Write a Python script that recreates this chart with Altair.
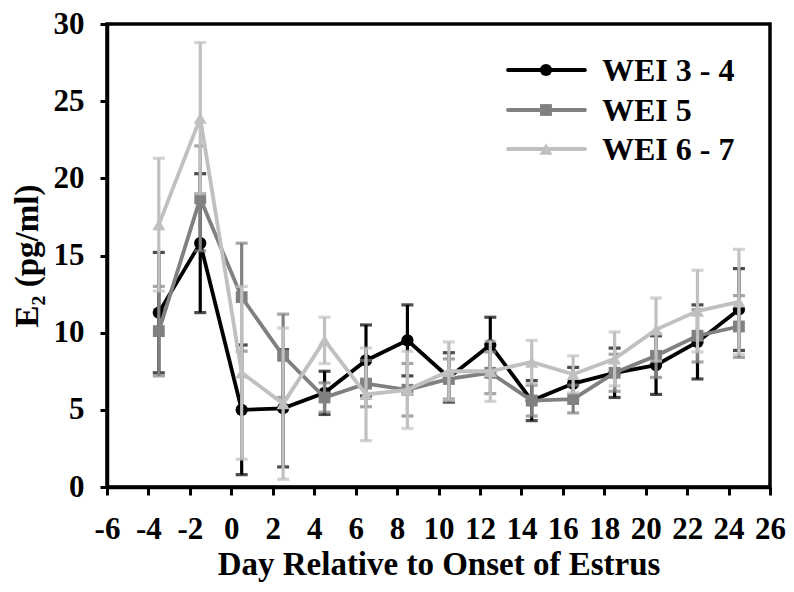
import altair as alt
import pandas as pd

# ---- data ----
days = [-3.5, -1.5, 0.5, 2.5, 4.5, 6.5, 8.5, 10.5, 12.5, 14.5, 16.5, 18.5, 20.5, 22.5, 24.5]
series_names = ["WEI 3 - 4", "WEI 5", "WEI 6 - 7"]

wei34 = [11.3, 15.8, 5.0, 5.1, 6.1, 8.2, 9.5, 7.1, 9.2, 5.6, 6.7, 7.4, 7.9, 9.4, 11.5]
wei34_err = [3.9, 4.5, 4.2, 3.8, 1.4, 2.3, 2.3, 1.6, 1.8, 1.3, 1.05, 1.6, 1.9, 2.4, 2.65]

wei5 = [10.1, 18.7, 12.3, 8.5, 5.8, 6.7, 6.3, 7.0, 7.4, 5.6, 5.7, 7.4, 8.5, 9.8, 10.4]
wei5_err = [2.9, 3.4, 3.5, 2.7, 0.95, 1.5, 1.7, 1.3, 1.35, 1.0, 0.9, 1.2, 1.4, 1.7, 2.0]

wei67 = [17.0, 23.9, 7.4, 5.4, 9.5, 6.0, 6.3, 7.5, 7.5, 8.1, 7.3, 8.3, 10.2, 11.4, 12.0]
wei67_err = [4.3, 4.9, 5.6, 4.9, 1.5, 3.0, 2.5, 1.9, 1.95, 1.4, 1.2, 1.75, 2.05, 2.65, 3.4]

x_ticks = list(range(-6, 27, 2))
y_ticks = list(range(0, 31, 5))

# ---- styling ----
colors = ["#000000", "#808080", "#c0c0c0"]
shapes = ["circle", "square", "triangle-up"]
sizes = [150, 140, 170]
FONT = "Liberation Serif"

rows = []
for name, vals, errs in zip(series_names, [wei34, wei5, wei67], [wei34_err, wei5_err, wei67_err]):
    for d, v, e in zip(days, vals, errs):
        rows.append({"series": name, "day": d, "value": v, "lo": v - e, "hi": v + e})
df = pd.DataFrame(rows)
legend_df = pd.DataFrame({"series": series_names})

x_enc = alt.X(
    "day:Q",
    scale=alt.Scale(domain=[-6, 26], nice=False, zero=False),
    axis=alt.Axis(
        values=x_ticks, title="Day Relative to Onset of Estrus", grid=False,
        labelExpr="'' + datum.value",
        tickSize=8, tickWidth=3, tickColor="black", domainWidth=3.5, domainColor="black",
        labelFont=FONT, labelFontSize=31, labelFontWeight="bold", labelColor="black",
        labelPadding=19, labelFlush=False, labelOverlap=False,
        titleFont=FONT, titleFontSize=33, titleFontWeight="bold", titleColor="black",
        titlePadding=4,
    ),
)


def y_enc(field):
    return alt.Y(
        f"{field}:Q",
        scale=alt.Scale(domain=[0, 30], nice=False),
        axis=alt.Axis(
            values=y_ticks, title="E\u2082 (pg/ml)", grid=False,
            labelExpr="'' + datum.value",
            tickSize=7, tickWidth=3, tickColor="black", domainWidth=3.5, domainColor="black",
            labelFont=FONT, labelFontSize=31, labelFontWeight="bold", labelColor="black",
            labelPadding=16, labelFlush=False,
            titleFont=FONT, titleFontSize=33, titleFontWeight="bold", titleColor="black",
            titlePadding=9,
        ),
    )


layers = []
for name, col, shp, sz in zip(series_names, colors, shapes, sizes):
    base = alt.Chart(df).transform_filter(alt.datum.series == name)
    err = base.mark_errorbar(ticks=True, size=12, thickness=3.2, color=col).encode(
        x=x_enc, y=y_enc("lo"), y2="hi:Q"
    )
    line = base.mark_line(color=col, strokeWidth=3.8).encode(x=x_enc, y=y_enc("value"))
    pts = base.mark_point(shape=shp, filled=True, size=sz, color=col, opacity=1).encode(
        x=x_enc, y=y_enc("value")
    )
    layers += [err, line, pts]

# ---- legend (line with marker) ----
leg_y = [46, 86, 125]
for name, col, shp, sz, ly in zip(series_names, colors, shapes, sizes, leg_y):
    lb = alt.Chart(legend_df).transform_filter(alt.datum.series == name)
    layers.append(
        lb.mark_rule(color=col, strokeWidth=3.8, strokeCap="round").encode(
            x=alt.value(401), x2=alt.value(478), y=alt.value(ly)
        )
    )
    layers.append(
        lb.mark_point(shape=shp, filled=True, size=sz, color=col, opacity=1).encode(
            x=alt.value(439), y=alt.value(ly)
        )
    )
    layers.append(
        lb.mark_text(font=FONT, fontSize=32, fontWeight="bold", align="left",
                     baseline="middle", color="black", dy=1).encode(
            text="series:N", x=alt.value(495), y=alt.value(ly)
        )
    )

chart = (
    alt.layer(*layers)
    .properties(
        width=663, height=463,
        padding={"left": 99, "top": 16, "right": 16, "bottom": 97},
        autosize=alt.AutoSizeParams(type="none"),
        background="white",
    )
    .configure_view(stroke="black", strokeWidth=3.5)
)

chart.save("out.html", embed_options={"renderer": "svg", "actions": False})
